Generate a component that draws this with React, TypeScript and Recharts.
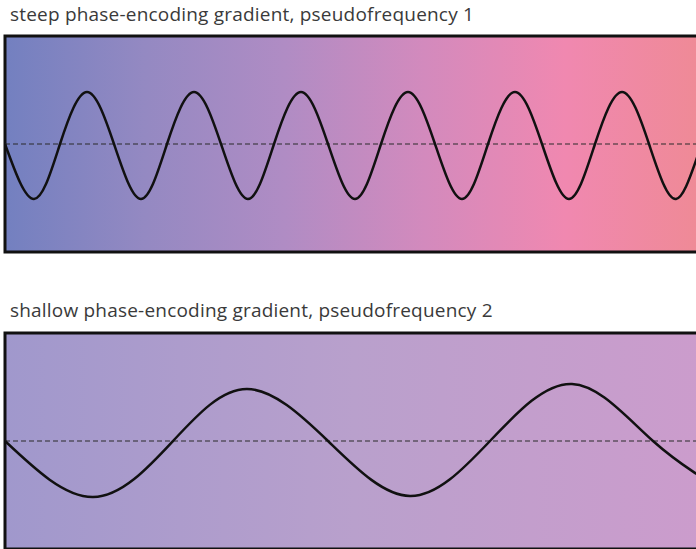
import { Line, LineChart, ReferenceArea, ReferenceLine, XAxis, YAxis } from "recharts";

// positions are horizontal distance across the panel, values are signal height from the midline
const steepPos = [5, 34, 60, 87, 114, 141, 167, 194, 221, 248, 274, 301, 328, 355, 381, 408, 435, 462, 488, 515, 542, 569, 595, 622, 649, 676, 702, 729];
const steepVal = [0, -55, 0, 52, 0, -55, 0, 52, 0, -55, 0, 52, 0, -55, 0, 52, 0, -55, 0, 52, 0, -55, 0, 52, 0, -55, 0, 52];

const shallowPos = [5, 93, 173, 247, 328, 410, 490, 572, 653, 733];
const shallowVal = [0, -56, 0, 52, 0, -55, 0, 57, 0, -55];

const titles = [
  "steep phase-encoding gradient, pseudofrequency 1",
  "shallow phase-encoding gradient, pseudofrequency 2",
];

const steepData = steepPos.map((pos, i) => ({ pos, signal: steepVal[i] }));
const shallowData = shallowPos.map((pos, i) => ({ pos, signal: shallowVal[i] }));

function WavePanel({
  data,
  gradientId,
  stops,
  top,
}: {
  data: { pos: number; signal: number }[];
  gradientId: string;
  stops: string[];
  top: number;
}) {
  return (
    <div style={{ position: "absolute", left: 0, top }}>
      <LineChart width={720} height={236} data={data} margin={{ top: 10, right: 15, bottom: 10, left: 5 }}>
        <defs>
          <linearGradient id={gradientId} x1="0" y1="0" x2="1" y2="0">
            {stops.map((c, i) => (
              <stop key={i} offset={`${(i / (stops.length - 1)) * 100}%`} stopColor={c} />
            ))}
          </linearGradient>
        </defs>
        <XAxis dataKey="pos" type="number" domain={[5, 705]} allowDataOverflow hide />
        <YAxis type="number" domain={[-108, 108]} allowDataOverflow hide />
        <ReferenceArea
          x1={5}
          x2={705}
          y1={-108}
          y2={108}
          fill={`url(#${gradientId})`}
          fillOpacity={1}
          stroke="#111"
          strokeWidth={3}
          ifOverflow="visible"
        />
        <ReferenceLine y={0} stroke="#2a2a2a" strokeWidth={1.2} strokeDasharray="5 3" />
        <Line
          type="natural"
          dataKey="signal"
          stroke="#111"
          strokeWidth={2.5}
          dot={false}
          isAnimationActive={false}
        />
      </LineChart>
    </div>
  );
}

const titleStyle: React.CSSProperties = {
  position: "absolute",
  left: 10,
  fontFamily: "'Open Sans', sans-serif",
  fontSize: 19,
  letterSpacing: 0.2,
  color: "#3a3a3a",
  whiteSpace: "nowrap",
};

export default function App() {
  return (
    <div
      style={{
        position: "fixed",
        left: 0,
        top: 0,
        width: 696,
        height: 549,
        overflow: "hidden",
        background: "#fff",
      }}
    >
      <div style={{ ...titleStyle, top: 1 }}>{titles[0]}</div>
      <WavePanel
        data={steepData}
        gradientId="steepBg"
        stops={["#7380c0", "#9489c2", "#b08cc4", "#d38abd", "#f088b0", "#ef8a95"]}
        top={26}
      />
      <div style={{ ...titleStyle, top: 297 }}>{titles[1]}</div>
      <WavePanel
        data={shallowData}
        gradientId="shallowBg"
        stops={["#a098cc", "#ad9ccc", "#b9a0cc", "#c39ecc", "#cc9ccc"]}
        top={323}
      />
    </div>
  );
}
